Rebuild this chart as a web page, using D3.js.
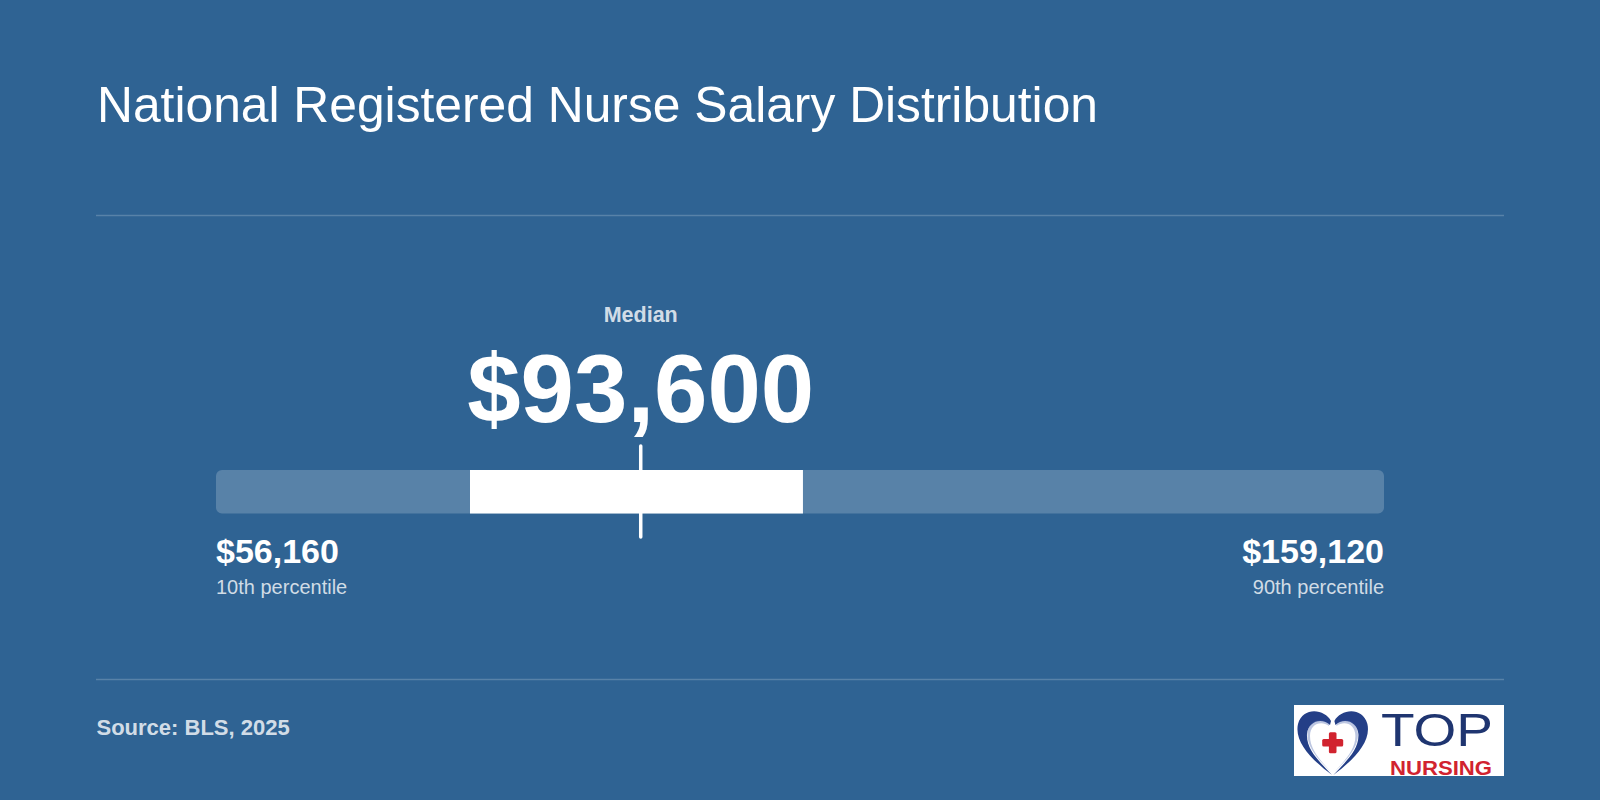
<!DOCTYPE html>
<html>
<head>
<meta charset="utf-8">
<script src="https://cdn.jsdelivr.net/npm/d3@7"></script>
<style>
  html, body { margin: 0; padding: 0; background: #2f6393; }
  svg { display: block; }
  text { font-family: "Liberation Sans", Arial, Helvetica, sans-serif; }
</style>
</head>
<body>
<svg id="chart" width="1600" height="800"></svg>
<script>
// ---- data ----
const chartTitle = "National Registered Nurse Salary Distribution";
const percentileNames = ["10th percentile", "25th percentile", "Median", "75th percentile", "90th percentile"];
const percentileValues = [56160, 78550, 93600, 107900, 159120];
const sourceText = "Source: BLS, 2025";

const W = 1600, H = 800;
const bg = "#2f6393";
const svg = d3.select("#chart");
svg.append("rect").attr("width", W).attr("height", H).attr("fill", bg);

const fmt = d3.format("$,");
const [p10, p25, p50, p75, p90] = percentileValues;

// scale
const x = d3.scaleLinear().domain([p10, p90]).range([216, 1384]);

// title
svg.append("text")
  .attr("x", 97).attr("y", 122)
  .attr("fill", "#ffffff")
  .attr("font-size", 49.75)
  .text(chartTitle);

// dividers
[215.5, 679.5].forEach(y => {
  svg.append("line")
    .attr("x1", 96).attr("x2", 1504)
    .attr("y1", y).attr("y2", y)
    .attr("stroke", "rgba(255,255,255,0.2)")
    .attr("stroke-width", 1.5);
});

// track
const barTop = 470, barH = 43.5;
svg.append("rect")
  .attr("x", x(p10)).attr("y", barTop)
  .attr("width", x(p90) - x(p10)).attr("height", barH)
  .attr("rx", 6).attr("ry", 6)
  .attr("fill", "rgba(255,255,255,0.2)");

// interquartile box
svg.append("rect")
  .attr("x", x(p25)).attr("y", barTop)
  .attr("width", x(p75) - x(p25)).attr("height", barH)
  .attr("fill", "#ffffff");

// median tick
svg.append("line")
  .attr("x1", x(p50)).attr("x2", x(p50))
  .attr("y1", 446).attr("y2", 537)
  .attr("stroke", "#ffffff")
  .attr("stroke-width", 3.5)
  .attr("stroke-linecap", "round");

// median label
svg.append("text")
  .attr("x", x(p50)).attr("y", 321.5)
  .attr("text-anchor", "middle")
  .attr("fill", "rgba(255,255,255,0.8)")
  .attr("font-size", 21.5).attr("font-weight", "bold")
  .text(percentileNames[2]);

svg.append("text")
  .attr("x", x(p50)).attr("y", 422)
  .attr("text-anchor", "middle")
  .attr("fill", "#ffffff")
  .attr("font-size", 96).attr("font-weight", "bold")
  .text(fmt(p50));

// end labels
const ends = [
  { v: p10, name: percentileNames[0], anchor: "start" },
  { v: p90, name: percentileNames[4], anchor: "end" }
];
ends.forEach(d => {
  svg.append("text")
    .attr("x", x(d.v)).attr("y", 563)
    .attr("text-anchor", d.anchor)
    .attr("fill", "#ffffff")
    .attr("font-size", 34).attr("font-weight", "bold")
    .text(fmt(d.v));
  svg.append("text")
    .attr("x", x(d.v)).attr("y", 594)
    .attr("text-anchor", d.anchor)
    .attr("fill", "rgba(255,255,255,0.78)")
    .attr("font-size", 20)
    .text(d.name);
});

// source
svg.append("text")
  .attr("x", 96.5).attr("y", 734.5)
  .attr("fill", "rgba(255,255,255,0.8)")
  .attr("font-size", 22).attr("font-weight", "bold")
  .text(sourceText);

// logo
const logo = svg.append("g").attr("transform", "translate(1294,705)");
logo.append("rect").attr("width", 210).attr("height", 71).attr("fill", "#ffffff");
const heart = logo.append("g");
const leftHalf = "M37,16 C31,4 9,1 4,19 C0,37 18,55 38,70 C26,57 12,45 13,29 C14,16 28,12 36,20 Z";
const leftSheen = "M35,19 C28,12 15,14 13.5,28 C12.5,42 24,54 37,67 C27,56 16,45 16,31 C16,19 27,15 35,21 Z";
[null, "translate(77.4,0) scale(-1,1)"].forEach(t => {
  const g = heart.append("g");
  if (t) g.attr("transform", t);
  g.append("path").attr("d", leftHalf).attr("fill", "#243f87");
  g.append("path").attr("d", leftSheen).attr("fill", "#3f5ca8").attr("opacity", 0.35);
});
// cross
const cx = 38.7, cy = 37.7;
logo.append("rect").attr("x", cx - 3.8).attr("y", cy - 10.5).attr("width", 7.6).attr("height", 21).attr("rx", 1.5).attr("fill", "#d1232f");
logo.append("rect").attr("x", cx - 10.5).attr("y", cy - 3.8).attr("width", 21).attr("height", 7.6).attr("rx", 1.5).attr("fill", "#d1232f");
logo.append("text")
  .attr("x", 87).attr("y", 40.5)
  .attr("fill", "#1f3570")
  .attr("font-family", "'Noto Sans', sans-serif")
  .attr("font-size", 46).attr("font-weight", 500)
  .attr("textLength", 112).attr("lengthAdjust", "spacingAndGlyphs")
  .text("TOP");
logo.append("text")
  .attr("x", 96).attr("y", 69.5)
  .attr("fill", "#d1232f")
  .attr("font-family", "'Noto Sans', sans-serif")
  .attr("font-size", 21).attr("font-weight", "bold")
  .attr("textLength", 102).attr("lengthAdjust", "spacingAndGlyphs")
  .text("NURSING");
</script>
</body>
</html>
